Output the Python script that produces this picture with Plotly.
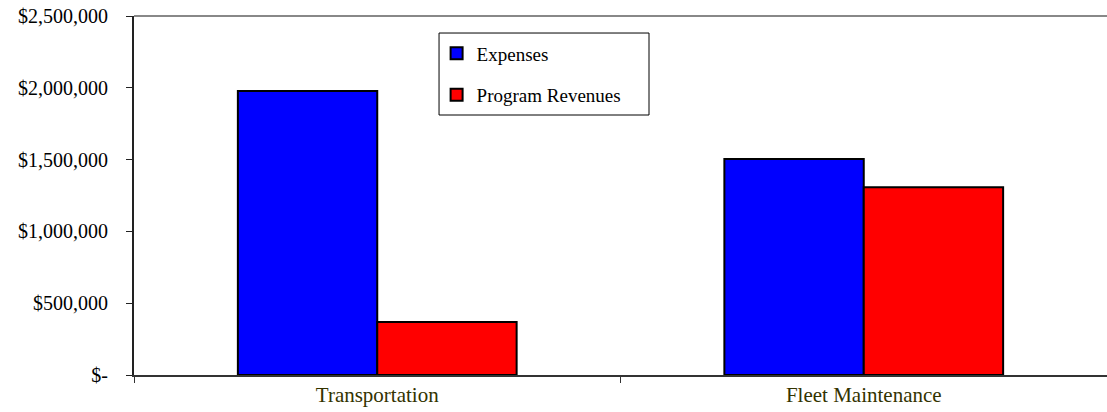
import plotly.graph_objects as go

categories = ["Transportation", "Fleet Maintenance"]
expenses = [1978000, 1504000]
revenues = [369000, 1308000]
series_names = ["Expenses", "Program Revenues"]
tick_vals = [0, 500000, 1000000, 1500000, 2000000, 2500000]
tick_text = ["$-", "$500,000", "$1,000,000", "$1,500,000", "$2,000,000", "$2,500,000"]

fam = "'Liberation Serif', 'Times New Roman', serif"
font = dict(family=fam, size=19, color="black")

fig = go.Figure()
fig.add_trace(go.Bar(x=categories, y=expenses, name=series_names[0],
                     marker=dict(color="#0000FF", line=dict(color="black", width=2)),
                     legendgroup="a"))
fig.add_trace(go.Bar(x=categories, y=revenues, name=series_names[1],
                     marker=dict(color="#FF0000", line=dict(color="black", width=2)),
                     legendgroup="b"))

fig.update_layout(
    width=1107, height=412,
    margin=dict(l=134, r=0, t=16, b=37),
    paper_bgcolor="white", plot_bgcolor="white",
    font=font,
    barmode="group", bargap=0.427, bargroupgap=0,
    showlegend=True,
    legend=dict(x=0.311, y=0.949, xanchor="left", yanchor="top",
                borderwidth=0, bgcolor="rgba(0,0,0,0)",
                traceorder="grouped", tracegroupgap=14,
                itemwidth=30,
                font=dict(family=fam, size=19, color="black")),
    xaxis=dict(showline=True, linecolor="#333333", linewidth=2,
               ticks="outside", ticklen=6, tickcolor="#333333",
               tickson="boundaries", showgrid=False, zeroline=False,
               tickfont=dict(family=fam, size=21, color="#333300"), automargin=False),
    yaxis=dict(range=[0, 2500000], tickvals=tick_vals, ticktext=tick_text,
               showline=True, linecolor="#222222", linewidth=2,
               ticks="outside", ticklen=6, tickcolor="#222222",
               ticklabelstandoff=14, tickfont=dict(family=fam, size=20, color="black"),
               automargin=False, showgrid=False, zeroline=False),
    shapes=[
        dict(type="line", xref="paper", yref="paper", x0=0, x1=1, y0=1, y1=1,
             line=dict(color="#888888", width=2)),
        dict(type="rect", xref="paper", yref="paper", x0=0.3135, x1=0.5293,
             y0=0.7242, y1=0.9526, line=dict(color="black", width=1),
             fillcolor="white", layer="above"),
    ],
)

fig.write_html("out.html")
